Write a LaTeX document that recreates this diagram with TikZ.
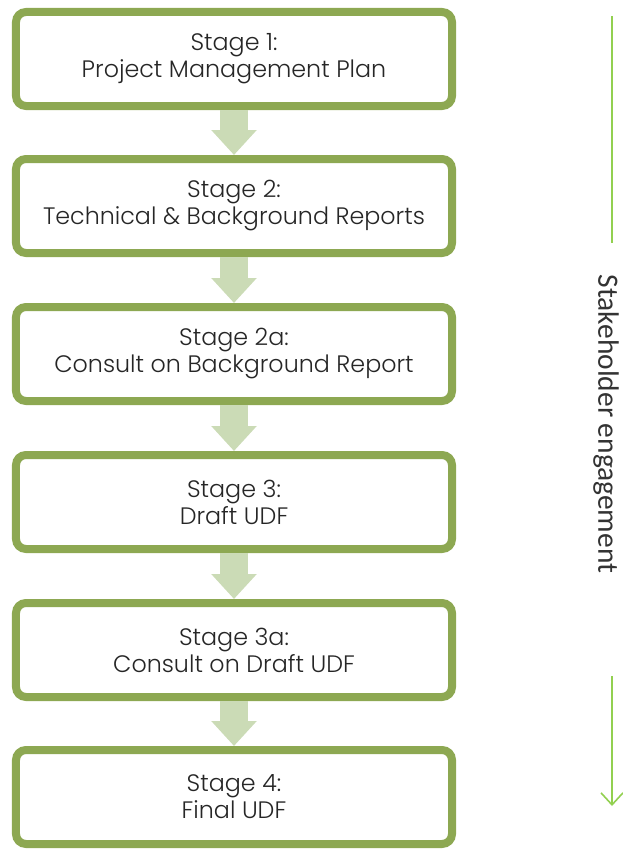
\documentclass[tikz,border=0pt]{standalone}
\usepackage{fontspec}
\setmainfont{Poppins}[UprightFont=* Light]
\newfontfamily\engfont{Carlito}
\usepackage{tikz}
\usetikzlibrary{arrows.meta,shadows}
\definecolor{stageolive}{RGB}{141,168,82}
\definecolor{arrowsage}{RGB}{203,219,182}
\definecolor{enggreen}{RGB}{146,208,80}
\tikzset{
  stagebox/.style={draw=stageolive,line width=8bp,fill=white,rounded corners=10bp,
    minimum width=436bp,minimum height=94bp,align=center,
    font=\fontsize{23.8bp}{27bp}\selectfont,text=black!85,
    drop shadow={shadow xshift=1bp,shadow yshift=-3bp,opacity=0.25}},
  blockarrow/.style={draw=arrowsage,line width=28bp,
    -{Triangle[width=44bp,length=25bp]}},
  engline/.style={enggreen,line width=1.6bp}
}
\begin{document}
\begin{tikzpicture}[x=1bp,y=-1bp]
     \useasboundingbox (0,0) rectangle (623,851);
     % stages
     \node[stagebox] (s1)  at (234, 59) {Stage 1:\\Project Management Plan};
     \node[stagebox] (s2)  at (234,206) {Stage 2:\\Technical \& Background Reports};
     \node[stagebox] (s2a) at (234,354) {Stage 2a:\\Consult on Background Report};
     \node[stagebox] (s3)  at (234,502) {Stage 3:\\Draft UDF};
     \node[stagebox] (s3a) at (234,650) {Stage 3a:\\Consult on Draft UDF};
     \node[stagebox] (s4)  at (234,797) {Stage 4:\\Final UDF};
     \draw[blockarrow] (s1)  -- (s2);
     \draw[blockarrow] (s2.south)  -- (s2a.north);
     \draw[blockarrow] (s2a.south) -- (s3.north);
     \draw[blockarrow] (s3.south)  -- (s3a.north);
     \draw[blockarrow] (s3a.south) -- (s4.north);
     % stakeholder engagement
     \coordinate (engtop) at (612,16);
     \coordinate (engmid) at (612,243);
     \coordinate (engarr) at (612,676);
     \coordinate (engend) at (612,806);
     \node[rotate=-90,font=\engfont\fontsize{29.5bp}{32bp}\selectfont,text=black!80] (eng) at (606,424) {Stakeholder engagement};
     \draw[engline] (engtop) -- (engmid);
     \draw[engline,-{Straight Barb[length=12bp,width=22bp]}] (engarr) -- (engend);
\end{tikzpicture}
\end{document}
